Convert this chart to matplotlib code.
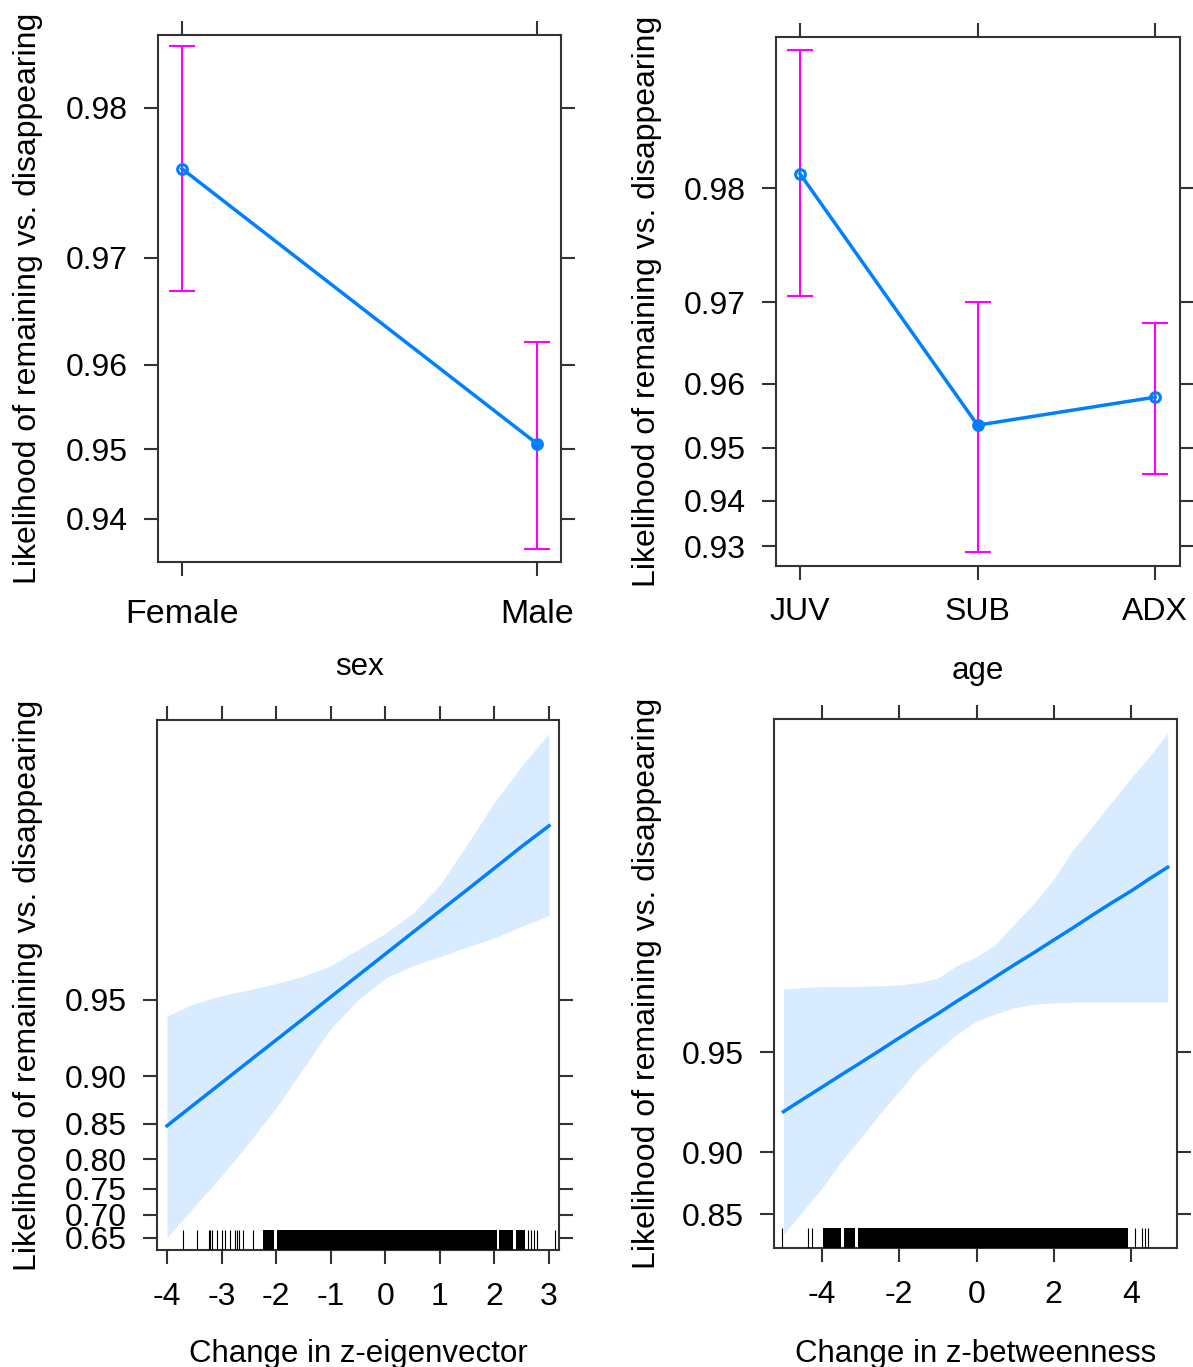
import numpy as np
import matplotlib
matplotlib.use('Agg')
import matplotlib.pyplot as plt
from matplotlib.ticker import NullLocator

plt.rcParams['font.family'] = ['Liberation Sans', 'DejaVu Sans']

# ---------------- data ----------------
ylabel_text = 'Likelihood of remaining vs. disappearing'

# Panel 1: sex
sex_levels = ['Female', 'Male']
sex_fit = [0.9764, 0.9507]
sex_lower = [0.9672, 0.9350]
sex_upper = [0.9831, 0.9624]
sex_yticks = [0.94, 0.95, 0.96, 0.97, 0.98]

# Panel 2: age
age_levels = ['JUV', 'SUB', 'ADX']
age_fit = [0.9810, 0.9538, 0.9581]
age_lower = [0.9706, 0.9286, 0.9453]
age_upper = [0.9878, 0.9700, 0.9677]
age_yticks = [0.93, 0.94, 0.95, 0.96, 0.97, 0.98]

# Panel 3: change in z-eigenvector
eig_x = [-4, -3.5, -3, -2.5, -2, -1.5, -1, -0.5, 0, 0.5, 1, 1.5, 2, 2.5, 3]
eig_fit = [0.8474, 0.8727, 0.8942, 0.9125, 0.9278, 0.9406, 0.9514, 0.9602, 0.9675,
           0.9735, 0.9784, 0.9824, 0.9857, 0.9884, 0.9905]
eig_lower = [0.6513, 0.7159, 0.7728, 0.8248, 0.8689, 0.9070, 0.9349, 0.9500, 0.9592,
             0.9637, 0.9667, 0.9696, 0.9721, 0.9750, 0.9775]
eig_upper = [0.9420, 0.9483, 0.9520, 0.9545, 0.9571, 0.9600, 0.9637, 0.9689, 0.9733,
             0.9779, 0.9832, 0.98862, 0.99246, 0.99469, 0.99612]
eig_xticks = [-4, -3, -2, -1, 0, 1, 2, 3]
eig_yticks = [0.65, 0.70, 0.75, 0.80, 0.85, 0.90, 0.95]
eig_rug = [-3.707, -3.451, -3.237, -3.207, -3.176, -3.085, -2.995, -2.932, -2.853,
           -2.749, -2.718, -2.682, -2.609, -2.425, 2.609, 2.670, 2.725, 2.774, 3.110]
eig_rug_dense = [(-2.242, -2.035), (-1.986, 2.042), (2.091, 2.347), (2.396, 2.561)]

# Panel 4: change in z-betweenness
btw_x = [-5, -4.5, -4, -3.5, -3, -2.5, -2, -1.5, -1, -0.5, 0, 0.5, 1, 1.5, 2,
         2.5, 3, 3.5, 4, 4.5, 4.95]
btw_fit = [0.9242, 0.9304, 0.9361, 0.9414, 0.9462, 0.9507, 0.9549, 0.9587, 0.9621,
           0.9654, 0.9683, 0.9710, 0.9735, 0.9757, 0.9778, 0.9797, 0.9815, 0.9831,
           0.9845, 0.9859, 0.9870]
btw_lower = [0.8292, 0.8525, 0.8731, 0.8938, 0.9092, 0.9231, 0.9343, 0.9442, 0.9506,
             0.9562, 0.9600, 0.9621, 0.9637, 0.9646, 0.9649, 0.9651, 0.9651, 0.9651,
             0.9651, 0.9651, 0.9651]
btw_upper = [0.9683, 0.9686, 0.9688, 0.9688, 0.9689, 0.9690, 0.9692, 0.9697, 0.9707,
             0.9733, 0.9749, 0.9771, 0.9804, 0.9831, 0.9858, 0.98859, 0.9904, 0.99198,
             0.9933, 0.99432, 0.9952]
btw_xticks = [-4, -2, 0, 2, 4]
btw_yticks = [0.85, 0.90, 0.95]
btw_rug = [-5.045, -4.374, -4.270, 4.096, 4.287, 4.374, 4.435]
btw_rug_dense = [(-3.965, -3.504), (-3.443, -3.138), (-3.069, 3.913)]

# ---------------- style ----------------
W, H = 1193, 1367
BLUE = '#0080FF'
MAG = '#FF00FF'
AXC = '#333333'
TICKFS = 23
fig = plt.figure(figsize=(W / 100, H / 100), dpi=100)


def px_axes(l, r, t, b):
    return fig.add_axes([l / W, 1 - b / H, (r - l) / W, (b - t) / H])


def style(ax, xpad, ypad=12):
    ax.set_yscale('logit')
    for s in ax.spines.values():
        s.set_linewidth(1.5)
        s.set_color(AXC)
    ax.tick_params(which='major', direction='out', length=10, width=1.5, color=AXC,
                   top=True, right=True, labeltop=False, labelright=False,
                   labelsize=TICKFS, labelcolor='black')
    ax.tick_params(axis='x', pad=xpad)
    ax.tick_params(axis='y', pad=ypad)
    ax.yaxis.set_minor_locator(NullLocator())
    ax.xaxis.set_minor_locator(NullLocator())


def set_yt(ax, ticks):
    ax.set_yticks(ticks)
    ax.set_yticklabels([f'{t:.2f}' for t in ticks])
    ax.yaxis.set_minor_locator(NullLocator())


def factor_panel(ax, levels, fit, lower, upper, open_pts):
    x = np.arange(1, len(levels) + 1)
    fit = np.array(fit)
    err = [fit - np.array(lower), np.array(upper) - fit]
    ax.errorbar(x, fit, yerr=err, fmt='none', ecolor=MAG, elinewidth=1.5,
                capsize=9.7, capthick=1.5, zorder=2)
    ax.plot(x, fit, color=BLUE, lw=2.5, zorder=3)
    for xi, yi, op in zip(x, fit, open_pts):
        ax.plot(xi, yi, 'o', ms=7, mec=BLUE, mew=2.2,
                mfc='none' if op else BLUE, zorder=4)
    ax.set_xticks(x)


def curve_panel(ax, x, fit, lower, upper, rug, dense):
    ax.fill_between(x, lower, upper, color=BLUE, alpha=0.15, lw=0, zorder=1)
    ax.plot(x, fit, color=BLUE, lw=2.5, zorder=3)
    trans = ax.get_xaxis_transform()
    rug_h = 20 / 530
    ax.vlines(rug, 0, rug_h, transform=trans, color='black', lw=0.8, zorder=4)
    for a, b in dense:
        ax.fill_between([a, b], [0, 0], [rug_h, rug_h], transform=trans,
                        color='black', lw=0, zorder=4)


# Panel 1
ax1 = px_axes(158, 561, 35, 562)
style(ax1, xpad=17)
factor_panel(ax1, sex_levels, sex_fit, sex_lower, sex_upper, [True, False])
ax1.set_xticklabels(sex_levels, fontsize=24.5)
ax1.set_xlim(0.9324, 2.0676)
ax1.set_ylim(0.93283, 0.98360)
set_yt(ax1, sex_yticks)

# Panel 2
ax2 = px_axes(776, 1180, 37, 566)
style(ax2, xpad=12)
factor_panel(ax2, age_levels, age_fit, age_lower, age_upper, [True, False, True])
ax2.set_xticklabels(age_levels, fontsize=TICKFS)
ax2.set_xlim(0.865, 3.14)
ax2.set_ylim(0.92512, 0.98837)
set_yt(ax2, age_yticks)

# Panel 3
ax3 = px_axes(157, 559, 720, 1250)
style(ax3, xpad=13)
curve_panel(ax3, eig_x, eig_fit, eig_lower, eig_upper, eig_rug, eig_rug_dense)
ax3.set_xticks(eig_xticks)
ax3.set_xticklabels([str(t) for t in eig_xticks])
ax3.set_xlim(-4.183, 3.183)
ax3.set_ylim(0.6226, 0.996602)
set_yt(ax3, eig_yticks)

# Panel 4
ax4 = px_axes(774, 1177, 719, 1248)
style(ax4, xpad=13)
curve_panel(ax4, btw_x, btw_fit, btw_lower, btw_upper, btw_rug, btw_rug_dense)
ax4.set_xticks(btw_xticks)
ax4.set_xticklabels([str(t) for t in btw_xticks])
ax4.set_xlim(-5.243, 5.191)
ax4.set_ylim(0.81467, 0.995674)
set_yt(ax4, btw_yticks)

# axis titles
def ftxt(x, y, s, **kw):
    fig.text(x / W, 1 - y / H, s, **kw)

ftxt(28, 298, ylabel_text, rotation=90, ha='center', va='center', fontsize=23)
ftxt(28, 985, ylabel_text, rotation=90, ha='center', va='center', fontsize=23)
ftxt(647, 301, ylabel_text, rotation=90, ha='center', va='center', fontsize=23)
ftxt(647, 983, ylabel_text, rotation=90, ha='center', va='center', fontsize=23)
ftxt(359.5, 675, 'sex', ha='center', va='baseline', fontsize=22.5)
ftxt(978, 679, 'age', ha='center', va='baseline', fontsize=22.5)
ftxt(358, 1362, 'Change in z-eigenvector', ha='center', va='baseline', fontsize=22.5)
ftxt(975.5, 1362, 'Change in z-betweenness', ha='center', va='baseline', fontsize=22.5)

fig.savefig('out.png', dpi=100)
